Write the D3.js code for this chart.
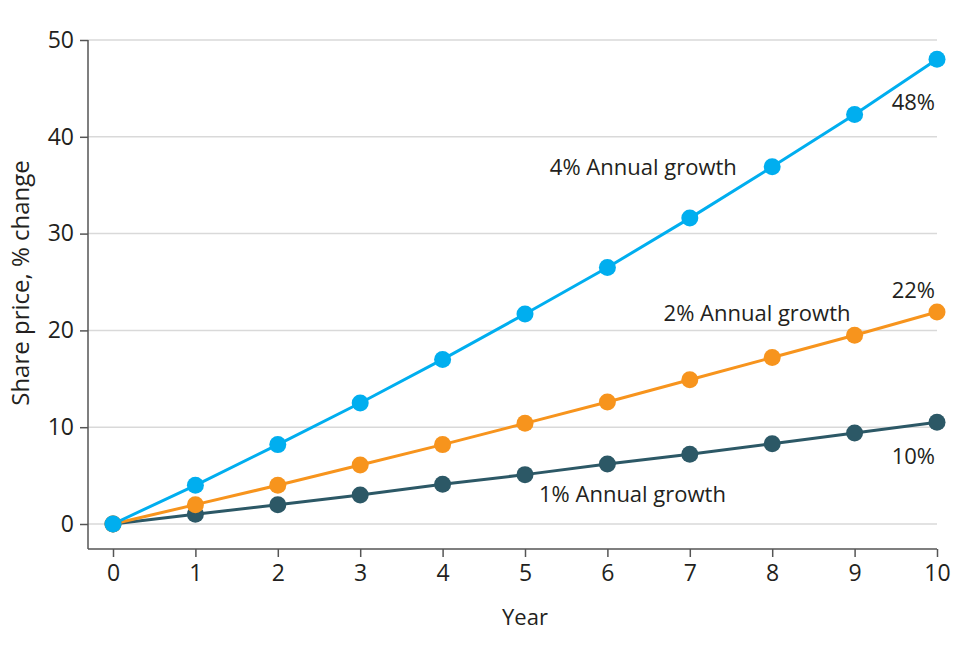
<!DOCTYPE html>
<html>
<head>
<meta charset="utf-8">
<script src="https://cdn.jsdelivr.net/npm/d3@7"></script>
<style>
  body { margin: 0; background: #fff; }
  text { font-family: "Open Sans", "Noto Sans", sans-serif; fill: #231f20; }
</style>
</head>
<body>
<script>
var width = 956,
    height = 657;

// data
var years = [0, 1, 2, 3, 4, 5, 6, 7, 8, 9, 10];
var growth4 = [0, 4.0, 8.2, 12.5, 17.0, 21.7, 26.5, 31.6, 36.9, 42.3, 48.0];
var growth2 = [0, 2.0, 4.0, 6.1, 8.2, 10.4, 12.6, 14.9, 17.2, 19.5, 21.9];
var growth1 = [0, 1.0, 2.0, 3.0, 4.1, 5.1, 6.2, 7.2, 8.3, 9.4, 10.5];
var yTicks = [0, 10, 20, 30, 40, 50];
var seriesNames = ["4% Annual growth", "2% Annual growth", "1% Annual growth"];
var endLabels = ["48%", "22%", "10%"];

var series = [
  {name: seriesNames[0], values: growth4, end: endLabels[0], color: "#00aeef"},
  {name: seriesNames[1], values: growth2, end: endLabels[1], color: "#f7941d"},
  {name: seriesNames[2], values: growth1, end: endLabels[2], color: "#2c5866"}
];

var svg = d3.select("body").append("svg")
    .attr("width", width)
    .attr("height", height);

var x = d3.scaleLinear().domain([0, 10]).range([113, 937]);
var y = d3.scaleLinear().domain([0, 50]).range([524, 40]);
var left = 88, right = 937, bottom = 549;

// gridlines
svg.append("g")
  .selectAll("line")
  .data(yTicks)
  .join("line")
    .attr("x1", left)
    .attr("x2", right)
    .attr("y1", d => y(d))
    .attr("y2", d => y(d))
    .attr("stroke", "#d9d9d9")
    .attr("stroke-width", 1.5);

// y axis
var yAxis = svg.append("g")
    .attr("transform", `translate(${left},0)`)
    .call(d3.axisLeft(y).tickValues(yTicks).tickSize(8).tickPadding(6));
yAxis.select(".domain").attr("d", `M0,${y(50)}V${bottom}`);

// x axis
var xAxis = svg.append("g")
    .attr("transform", `translate(0,${bottom})`)
    .call(d3.axisBottom(x).tickValues(years).tickSize(8).tickPadding(8).tickSizeOuter(0));
xAxis.select(".domain").attr("d", `M${left},0H${right}`);

svg.selectAll(".tick text")
    .style("font-size", "23px")
    .attr("fill", "#231f20");
svg.selectAll(".domain, .tick line")
    .attr("stroke", "#555")
    .attr("stroke-width", 1.5);

var line = d3.line()
    .x((d, i) => x(years[i]))
    .y(d => y(d));

// draw lower series first so blue sits on top
var drawOrder = series.slice().reverse();

svg.append("g")
  .selectAll("path")
  .data(drawOrder)
  .join("path")
    .attr("d", d => line(d.values))
    .attr("fill", "none")
    .attr("stroke", d => d.color)
    .attr("stroke-width", 3);

drawOrder.forEach(function(s) {
  svg.append("g")
    .selectAll("circle")
    .data(s.values)
    .join("circle")
      .attr("cx", (d, i) => x(years[i]))
      .attr("cy", d => y(d))
      .attr("r", 8.5)
      .attr("fill", s.color);
});

// series labels
svg.append("text")
    .attr("x", x(7.57))
    .attr("y", y(growth4[7]) - 43)
    .attr("text-anchor", "end")
    .style("font-size", "22px")
    .text(series[0].name);

svg.append("text")
    .attr("x", x(8.95))
    .attr("y", y(growth2[9]) - 14)
    .attr("text-anchor", "end")
    .style("font-size", "22px")
    .text(series[1].name);

svg.append("text")
    .attr("x", x(5.17))
    .attr("y", y(growth1[5]) + 27)
    .attr("text-anchor", "start")
    .style("font-size", "22px")
    .text(series[2].name);

// end labels
var endOffsets = [51, -14, 42];
series.forEach(function(s, k) {
  svg.append("text")
      .attr("x", x(10) - 2)
      .attr("y", y(s.values[10]) + endOffsets[k])
      .attr("text-anchor", "end")
      .style("font-size", "22px")
      .text(s.end);
});

// axis titles
svg.append("text")
    .attr("x", (x(0) + x(10)) / 2)
    .attr("y", 625)
    .attr("text-anchor", "middle")
    .style("font-size", "22px")
    .text("Year");

svg.append("text")
    .attr("transform", "translate(29,283) rotate(-90)")
    .attr("text-anchor", "middle")
    .style("font-size", "24px")
    .text("Share price, % change");
</script>
</body>
</html>
